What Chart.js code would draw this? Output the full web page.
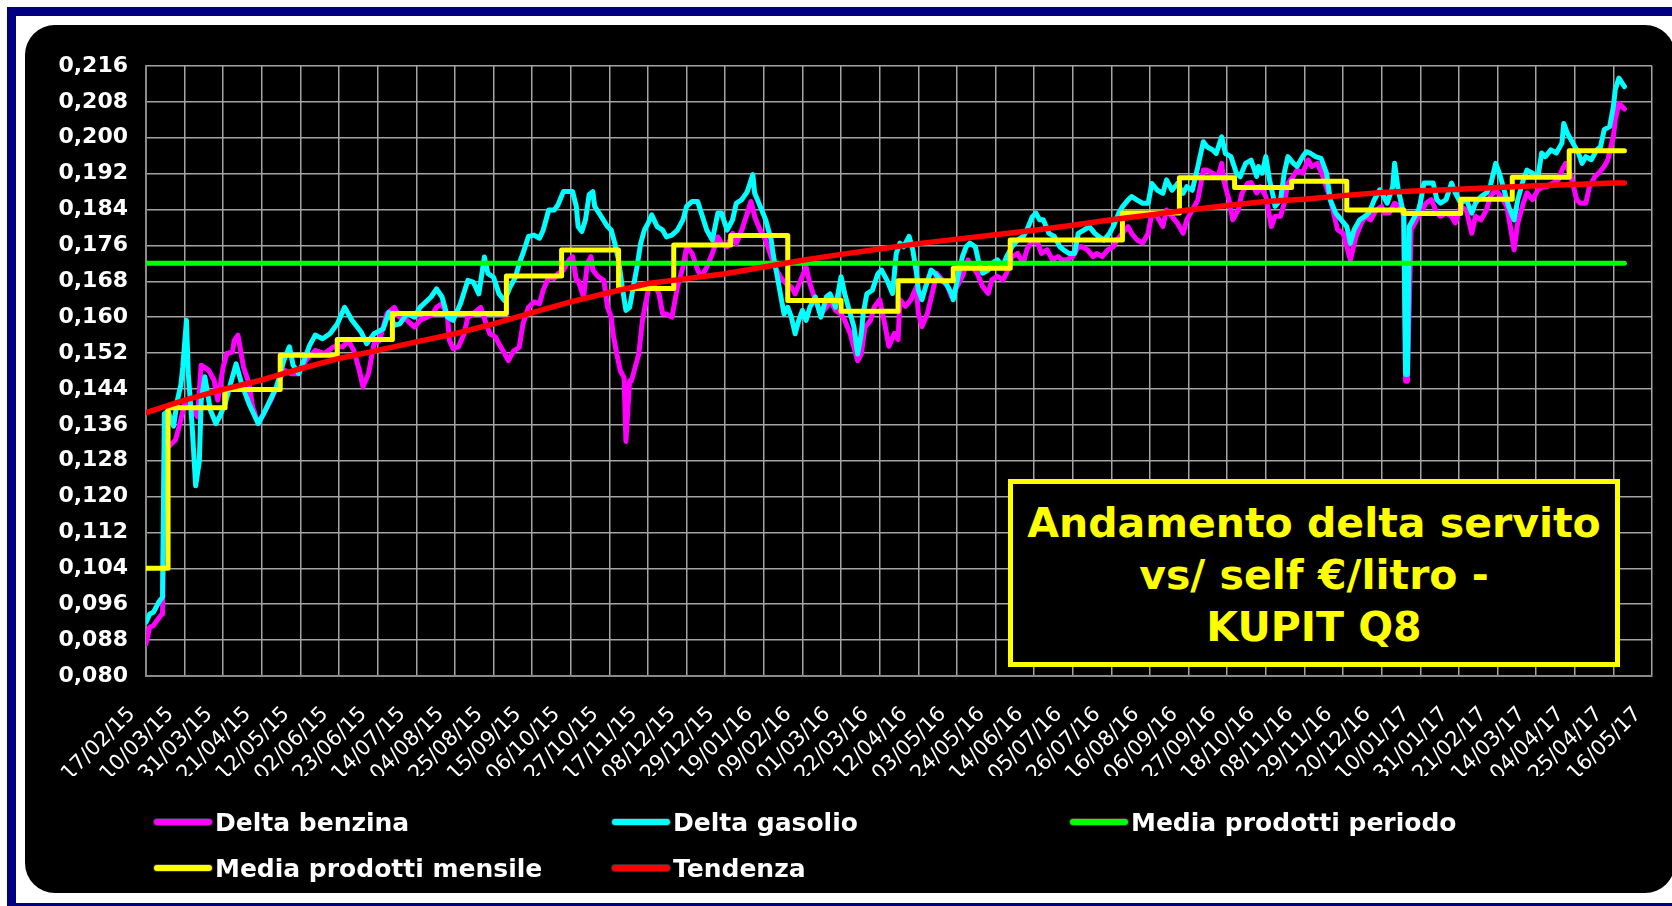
<!DOCTYPE html>
<html>
<head>
<meta charset="utf-8">
<script src="https://cdn.jsdelivr.net/npm/chart.js@4.4.1/dist/chart.umd.min.js"></script>
<style>
html,body{margin:0;padding:0;background:#fff;width:1672px;height:906px;overflow:hidden;position:relative;}
#frame{position:absolute;left:7px;top:7px;width:1686px;height:905px;border:9px solid #000080;box-sizing:border-box;}
#panel{position:absolute;left:25px;top:25px;width:1650px;height:868px;background:#000;border-radius:30px;}
#chart{position:absolute;left:0;top:0;}
#title{position:absolute;left:1008px;top:479px;width:612px;height:188px;box-sizing:border-box;border:5px solid #ffff00;background:#000;color:#ffff00;font:bold 41px 'DejaVu Sans',sans-serif;text-align:center;line-height:52px;padding-top:13px;white-space:nowrap;}
.lg{position:absolute;height:30px;line-height:30px;display:flex;align-items:center;font:bold 25px 'DejaVu Sans',sans-serif;color:#fff;white-space:nowrap;}
.lg i{display:inline-block;width:58px;height:6px;border-radius:3px;margin-right:3px;box-shadow:0 0 0 1px rgba(60,60,60,0.8);}
</style>
</head>
<body>
<div id="frame"></div>
<div id="panel"></div>
<canvas id="chart" width="1672" height="906"></canvas>
<div id="title"></div>
<div id="legend"></div>
<script>
// ---- tick labels (every 21 days from 17/02/15) ----
const xTickLabels = ['17/02/15','10/03/15','31/03/15','21/04/15','12/05/15','02/06/15','23/06/15','14/07/15','04/08/15','25/08/15','15/09/15','06/10/15','27/10/15','17/11/15','08/12/15','29/12/15','19/01/16','09/02/16','01/03/16','22/03/16','12/04/16','03/05/16','24/05/16','14/06/16','05/07/16','26/07/16','16/08/16','06/09/16','27/09/16','18/10/16','08/11/16','29/11/16','20/12/16','10/01/17','31/01/17','21/02/17','14/03/17','04/04/17','25/04/17','16/05/17'];
const xTickStepDays = 21;
const yMin = 0.080, yMax = 0.216, yStep = 0.008;

// ---- series names ----
const seriesNames = ['Delta benzina','Delta gasolio','Media prodotti periodo','Media prodotti mensile','Tendenza'];
const titleLines = ['Andamento delta servito','vs/ self €/litro -','KUPIT Q8'];

// ---- Delta benzina: [day since 17/02/15, €/litro] ----
const benzina = [[0,0.0872],[2,0.0909],[4,0.0912],[6,0.0924],[8,0.0935],[9,0.0938],[10,0.1300],[12,0.1310],[16,0.1326],[18,0.1356],[21,0.1407],[24,0.1400],[28,0.1378],[30,0.1493],[34,0.1482],[37,0.1460],[39,0.1415],[42,0.1489],[44,0.1519],[47,0.1522],[48,0.1548],[50,0.1560],[53,0.1489],[56,0.1452],[58,0.1400],[61,0.1363],[64,0.1385],[68,0.1415],[71,0.1445],[75,0.1482],[79,0.1474],[83,0.1474],[87,0.1504],[92,0.1526],[97,0.1519],[102,0.1534],[107,0.1534],[110,0.1548],[113,0.1526],[116,0.1482],[118,0.1445],[121,0.1474],[124,0.1541],[127,0.1548],[131,0.1608],[135,0.1622],[138,0.1600],[142,0.1593],[146,0.1578],[149,0.1593],[153,0.1600],[156,0.1608],[158,0.1622],[161,0.1630],[164,0.1600],[165,0.1548],[167,0.1530],[170,0.1534],[173,0.1563],[175,0.1600],[178,0.1608],[182,0.1622],[185,0.1585],[187,0.1563],[190,0.1556],[192,0.1540],[195,0.1519],[197,0.1503],[200,0.1525],[203,0.1533],[205,0.1585],[208,0.1622],[211,0.1634],[214,0.1630],[216,0.1660],[219,0.1690],[222,0.1686],[224,0.1697],[227,0.1705],[230,0.1727],[232,0.1735],[234,0.1682],[235,0.1682],[238,0.1645],[240,0.1720],[242,0.1735],[243,0.1705],[246,0.1690],[249,0.1682],[251,0.1622],[253,0.1600],[254,0.1563],[256,0.1518],[258,0.1480],[260,0.1465],[261,0.1323],[263,0.1458],[264,0.1458],[266,0.1488],[268,0.1518],[270,0.1593],[272,0.1637],[274,0.1675],[277,0.1667],[279,0.1652],[281,0.1607],[283,0.1607],[286,0.1600],[289,0.1667],[292,0.1712],[294,0.1757],[297,0.1742],[300,0.1705],[302,0.1690],[305,0.1712],[308,0.1742],[311,0.1779],[313,0.1764],[316,0.1757],[319,0.1787],[321,0.1764],[324,0.1794],[327,0.1832],[329,0.1858],[331,0.1824],[334,0.1794],[337,0.1772],[340,0.1735],[342,0.1712],[345,0.1690],[348,0.1675],[351,0.1667],[353,0.1652],[356,0.1682],[359,0.1712],[361,0.1675],[364,0.1637],[367,0.1607],[370,0.1622],[372,0.1637],[375,0.1615],[378,0.1607],[380,0.1593],[383,0.1563],[385,0.1533],[387,0.1503],[389,0.1518],[391,0.1578],[394,0.1593],[396,0.1622],[399,0.1639],[402,0.1579],[404,0.1535],[407,0.1564],[409,0.1550],[410,0.1639],[413,0.1624],[416,0.1639],[419,0.1668],[420,0.1609],[422,0.1579],[425,0.1609],[428,0.1661],[430,0.1698],[433,0.1683],[436,0.1668],[438,0.1646],[441,0.1668],[444,0.1691],[447,0.1728],[449,0.1713],[452,0.1698],[455,0.1668],[458,0.1653],[460,0.1683],[463,0.1691],[466,0.1683],[468,0.1698],[471,0.1735],[474,0.1742],[477,0.1720],[479,0.1750],[482,0.1772],[485,0.1765],[487,0.1742],[490,0.1750],[493,0.1728],[496,0.1735],[498,0.1728],[501,0.1728],[504,0.1735],[507,0.1757],[509,0.1757],[512,0.1750],[515,0.1735],[517,0.1742],[520,0.1735],[523,0.1750],[526,0.1757],[528,0.1772],[531,0.1787],[534,0.1802],[536,0.1787],[539,0.1772],[542,0.1765],[545,0.1787],[547,0.1832],[550,0.1824],[553,0.1802],[555,0.1839],[558,0.1824],[561,0.1809],[564,0.1787],[566,0.1817],[569,0.1839],[572,0.1861],[575,0.1928],[577,0.1928],[580,0.1921],[583,0.1913],[585,0.1943],[586,0.1906],[589,0.1861],[591,0.1817],[594,0.1839],[596,0.1876],[599,0.1898],[601,0.1900],[604,0.1877],[606,0.1891],[609,0.1869],[612,0.1802],[614,0.1825],[617,0.1825],[619,0.1854],[621,0.1899],[624,0.1914],[626,0.1928],[629,0.1921],[632,0.1951],[634,0.1936],[637,0.1943],[640,0.1914],[643,0.1877],[645,0.1847],[648,0.1795],[651,0.1787],[653,0.1758],[655,0.1728],[658,0.1780],[661,0.1810],[663,0.1825],[666,0.1817],[669,0.1839],[672,0.1847],[673,0.1832],[676,0.1832],[679,0.1854],[682,0.1847],[684,0.1825],[685,0.1457],[686,0.1457],[688,0.1795],[691,0.1817],[693,0.1832],[696,0.1854],[699,0.1862],[702,0.1832],[704,0.1825],[707,0.1832],[710,0.1825],[712,0.1810],[715,0.1847],[718,0.1839],[721,0.1787],[723,0.1825],[726,0.1817],[729,0.1839],[731,0.1869],[734,0.1884],[737,0.1869],[740,0.1847],[742,0.1802],[744,0.1750],[746,0.1810],[749,0.1854],[751,0.1877],[754,0.1862],[757,0.1884],[760,0.1891],[762,0.1891],[765,0.1899],[768,0.1906],[770,0.1928],[772,0.1943],[775,0.1914],[778,0.1862],[780,0.1854],[783,0.1854],[785,0.1891],[788,0.1914],[790,0.1921],[793,0.1936],[795,0.1951],[798,0.2003],[799,0.2040],[801,0.2077],[804,0.2064]];

// ---- Delta gasolio ----
const gasolio = [[0,0.0920],[2,0.0938],[4,0.0942],[7,0.0965],[9,0.0976],[10,0.1385],[12,0.1390],[15,0.1357],[17,0.1413],[19,0.1450],[20,0.1489],[22,0.1593],[23,0.1474],[25,0.1363],[27,0.1224],[29,0.1279],[30,0.1413],[32,0.1467],[35,0.1393],[38,0.1363],[40,0.1378],[43,0.1407],[46,0.1452],[49,0.1496],[52,0.1452],[56,0.1407],[61,0.1363],[64,0.1385],[68,0.1419],[71,0.1445],[75,0.1504],[78,0.1534],[80,0.1493],[83,0.1474],[86,0.1504],[89,0.1537],[92,0.1560],[96,0.1552],[100,0.1563],[104,0.1585],[108,0.1622],[112,0.1593],[117,0.1567],[120,0.1541],[124,0.1563],[129,0.1574],[132,0.1611],[135,0.1582],[138,0.1585],[142,0.1608],[146,0.1600],[149,0.1622],[155,0.1645],[158,0.1663],[161,0.1645],[164,0.1600],[167,0.1593],[171,0.1630],[175,0.1682],[178,0.1678],[181,0.1652],[184,0.1734],[186,0.1697],[189,0.1689],[192,0.1652],[195,0.1637],[198,0.1667],[201,0.1690],[203,0.1720],[205,0.1742],[208,0.1780],[211,0.1783],[214,0.1776],[216,0.1794],[219,0.1839],[222,0.1839],[224,0.1850],[227,0.1880],[232,0.1880],[234,0.1847],[235,0.1802],[237,0.1791],[239,0.1817],[241,0.1873],[243,0.1880],[244,0.1847],[247,0.1828],[251,0.1802],[253,0.1794],[255,0.1764],[257,0.1727],[259,0.1667],[261,0.1615],[263,0.1622],[265,0.1667],[267,0.1712],[269,0.1764],[271,0.1794],[273,0.1809],[275,0.1828],[278,0.1802],[281,0.1794],[283,0.1779],[286,0.1783],[289,0.1794],[292,0.1817],[294,0.1847],[297,0.1858],[300,0.1858],[302,0.1832],[305,0.1794],[308,0.1772],[311,0.1832],[313,0.1832],[316,0.1794],[319,0.1817],[321,0.1854],[324,0.1862],[327,0.1880],[330,0.1918],[331,0.1877],[334,0.1847],[337,0.1817],[340,0.1772],[341,0.1742],[343,0.1697],[345,0.1652],[347,0.1607],[349,0.1622],[351,0.1600],[353,0.1563],[355,0.1593],[357,0.1615],[359,0.1593],[361,0.1622],[364,0.1645],[367,0.1600],[370,0.1645],[372,0.1652],[375,0.1622],[378,0.1690],[380,0.1652],[382,0.1622],[385,0.1578],[387,0.1518],[389,0.1563],[390,0.1607],[392,0.1652],[395,0.1660],[398,0.1697],[400,0.1705],[403,0.1682],[406,0.1653],[408,0.1742],[410,0.1765],[412,0.1757],[415,0.1780],[417,0.1750],[419,0.1698],[420,0.1661],[422,0.1639],[424,0.1668],[427,0.1705],[429,0.1698],[432,0.1683],[435,0.1676],[438,0.1653],[439,0.1639],[442,0.1698],[444,0.1735],[446,0.1757],[448,0.1765],[451,0.1757],[453,0.1720],[455,0.1698],[458,0.1705],[460,0.1720],[463,0.1728],[466,0.1713],[468,0.1735],[471,0.1757],[474,0.1772],[477,0.1780],[479,0.1794],[482,0.1824],[484,0.1832],[486,0.1817],[488,0.1817],[491,0.1787],[494,0.1780],[497,0.1757],[499,0.1750],[502,0.1742],[505,0.1742],[507,0.1787],[510,0.1794],[513,0.1802],[516,0.1787],[518,0.1780],[521,0.1772],[524,0.1787],[526,0.1802],[529,0.1832],[531,0.1846],[534,0.1861],[536,0.1869],[539,0.1861],[542,0.1854],[545,0.1854],[547,0.1898],[550,0.1883],[553,0.1876],[555,0.1906],[558,0.1883],[561,0.1898],[564,0.1876],[566,0.1891],[569,0.1883],[572,0.1935],[575,0.1991],[577,0.1980],[580,0.1973],[582,0.1965],[585,0.2002],[587,0.1965],[590,0.1958],[593,0.1921],[595,0.1913],[598,0.1943],[601,0.1950],[604,0.1914],[605,0.1936],[607,0.1921],[609,0.1958],[611,0.1906],[613,0.1869],[614,0.1847],[617,0.1862],[619,0.1921],[621,0.1958],[624,0.1943],[626,0.1936],[629,0.1958],[631,0.1969],[633,0.1966],[636,0.1958],[639,0.1954],[642,0.1921],[644,0.1862],[647,0.1832],[650,0.1817],[653,0.1802],[655,0.1765],[657,0.1795],[660,0.1817],[663,0.1825],[665,0.1832],[668,0.1862],[671,0.1884],[672,0.1877],[675,0.1854],[678,0.1891],[679,0.1943],[681,0.1884],[683,0.1847],[684,0.1832],[685,0.1472],[686,0.1472],[687,0.1802],[689,0.1817],[692,0.1839],[693,0.1854],[695,0.1899],[698,0.1899],[700,0.1899],[702,0.1862],[704,0.1854],[707,0.1862],[710,0.1899],[712,0.1877],[715,0.1854],[718,0.1862],[721,0.1832],[723,0.1854],[726,0.1869],[729,0.1877],[731,0.1891],[734,0.1943],[736,0.1921],[739,0.1877],[741,0.1847],[744,0.1817],[746,0.1862],[749,0.1906],[751,0.1928],[754,0.1921],[757,0.1914],[759,0.1966],[761,0.1958],[764,0.1973],[767,0.1966],[770,0.1988],[771,0.2032],[773,0.2010],[776,0.1988],[779,0.1966],[781,0.1943],[783,0.1958],[786,0.1951],[789,0.1973],[791,0.1980],[793,0.2018],[796,0.2025],[798,0.2069],[799,0.2107],[801,0.2133],[804,0.2114]];

// ---- Media prodotti periodo (constant) ----
const mediaPeriodo = 0.172;
const dataFirstDay = 0, dataLastDay = 804;

// ---- Media prodotti mensile: first day of each month and its level ----
const monthStartDays = [0,12,43,73,104,134,165,196,226,257,287,318,349,378,409,439,470,500,531,562,592,623,653,684,715,743,774];
const mediaMensile = [0.1040,0.1398,0.1439,0.1515,0.1550,0.1608,0.1608,0.1692,0.1750,0.1664,0.1761,0.1782,0.1637,0.1613,0.1681,0.1709,0.1772,0.1772,0.1832,0.1911,0.1889,0.1903,0.1839,0.1831,0.1863,0.1912,0.1971];

// ---- Tendenza ----
const tendenzaDays = [0,21,42,63,84,105,126,147,168,189,210,231,252,273,294,315,336,357,378,399,420,441,462,483,504,525,546,567,588,609,630,651,672,693,714,735,756,777,798,804];
const tendenza = [0.1387,0.1415,0.1439,0.1460,0.1485,0.1508,0.1526,0.1545,0.1563,0.1585,0.1610,0.1634,0.1655,0.1675,0.1686,0.1697,0.1712,0.1727,0.1740,0.1752,0.1764,0.1774,0.1784,0.1794,0.1805,0.1817,0.1828,0.1839,0.1849,0.1858,0.1863,0.1871,0.1878,0.1882,0.1885,0.1889,0.1893,0.1896,0.1899,0.1899];

const colors = ['#ff00ff','#00ffff','#00ff00','#ffff00','#ff0000'];

// ---- build datasets ----
const toXY = arr => arr.map(([d, v]) => ({x: d, y: v}));
const mensileXY = monthStartDays.map((d, i) => ({x: d, y: mediaMensile[i]}));
mensileXY.push({x: dataLastDay, y: mediaMensile[mediaMensile.length - 1]});

const common = {pointRadius: 0, tension: 0, borderJoinStyle: 'round', borderCapStyle: 'round', fill: false};

Chart.defaults.font.family = "'DejaVu Sans', sans-serif";

new Chart(document.getElementById('chart'), {
  type: 'line',
  data: {
    datasets: [
      Object.assign({label: seriesNames[0], data: toXY(benzina), borderColor: colors[0], borderWidth: 5, order: 5}, common),
      Object.assign({label: seriesNames[1], data: toXY(gasolio), borderColor: colors[1], borderWidth: 5, order: 4}, common),
      Object.assign({label: seriesNames[2], data: [{x: dataFirstDay, y: mediaPeriodo}, {x: dataLastDay, y: mediaPeriodo}], borderColor: colors[2], borderWidth: 5, order: 3}, common),
      Object.assign({label: seriesNames[3], data: mensileXY, borderColor: colors[3], borderWidth: 5, stepped: true, order: 2}, common),
      Object.assign({label: seriesNames[4], data: tendenzaDays.map((d, i) => ({x: d, y: tendenza[i]})), borderColor: colors[4], borderWidth: 5.5, order: 1}, common)
    ]
  },
  options: {
    responsive: false,
    maintainAspectRatio: false,
    devicePixelRatio: 1,
    animation: false,
    events: [],
    layout: {padding: {left: 24, top: 66, right: 20, bottom: 130}},
    plugins: {legend: {display: false}, tooltip: {enabled: false}, title: {display: false}},
    scales: {
      x: {
        type: 'linear',
        min: 0,
        max: (xTickLabels.length - 1) * xTickStepDays,
        afterFit: s => { s.height = 100; s.paddingLeft = 0; s.paddingRight = 0; },
        grid: {color: '#a4a4a4', lineWidth: 1.5, drawTicks: false},
        border: {color: '#8a8a8a', width: 2},
        ticks: {
          stepSize: xTickStepDays,
          autoSkip: false,
          minRotation: 45,
          maxRotation: 45,
          padding: 26,
          labelOffset: -14,
          color: '#ffffff',
          font: {size: 21, weight: 'normal'},
          callback: v => xTickLabels[Math.round(v / xTickStepDays)]
        }
      },
      y: {
        type: 'linear',
        min: yMin,
        max: yMax,
        afterFit: s => { s.width = 122; },
        grid: {color: '#a4a4a4', lineWidth: 1.5, drawTicks: false},
        border: {color: '#8a8a8a', width: 2},
        ticks: {
          stepSize: yStep,
          padding: 18,
          color: '#ffffff',
          font: {size: 22, weight: 'bold'},
          callback: v => v.toFixed(3).replace('.', ',')
        }
      }
    }
  }
});

// ---- title box ----
document.getElementById('title').innerHTML = titleLines.join('<br>');

// ---- legend (3-column grid like the original) ----
const legendCols = [154, 612, 1070], legendRows = [822, 868];
const lg = document.getElementById('legend');
seriesNames.forEach((name, i) => {
  const el = document.createElement('div');
  el.className = 'lg';
  el.style.left = legendCols[i % 3] + 'px';
  el.style.top = (legendRows[Math.floor(i / 3)] - 15) + 'px';
  const sw = document.createElement('i');
  sw.style.background = colors[i];
  el.appendChild(sw);
  el.appendChild(document.createTextNode(name));
  lg.appendChild(el);
});
</script>
</body>
</html>
